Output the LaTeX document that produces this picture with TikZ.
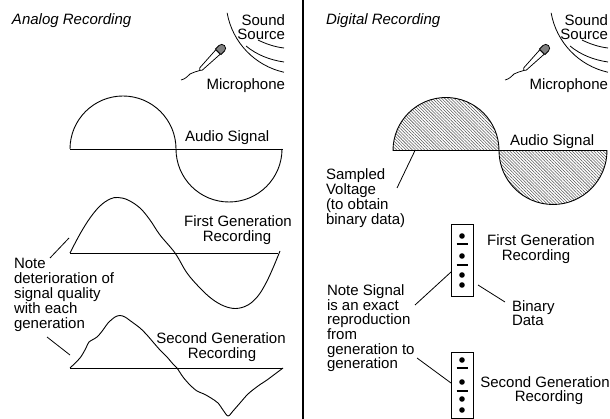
\documentclass[tikz,border=0pt]{standalone}
\usepackage{fontspec}
\setmainfont{Liberation Sans}
\usetikzlibrary{patterns.meta}

\tikzset{
  % sound source: three arcs around the upper right corner
  soundsource/.pic={
    \draw[line width=0.8pt] (300,0) ++(170:74) arc (170:102.5:74);
    \draw[line width=0.8pt] (246,46) .. controls (257,55) and (270,60) .. (284,62);
    \draw[line width=0.8pt] (258,40) .. controls (266,44) and (275,47) .. (284,48);
  },
  % hand microphone with its cable
  microphone/.pic={
    \draw[line width=0.75pt] (201,70) .. controls (196,72) and (193,72) .. (190,74)
                             .. controls (187,77) and (185,79) .. (181,80);
    \begin{scope}[shift={(201,69)}, rotate=45]
      \draw[line width=0.75pt, fill=white] (0,-1.7) -- (24,-3.1) -- (24,3.1) -- (0,1.7)
            arc (90:270:1.7) -- cycle;
      \draw[line width=0.75pt, fill=black!50] (24.3,-3.9) -- (29.3,-3.9) arc (-90:90:3.9)
            -- (24.3,3.9) -- cycle;
    \end{scope}
  },
}

\begin{document}
\begin{tikzpicture}[x=1pt,y=-1pt,
  every node/.style={inner sep=0pt, outer sep=0pt},
  lbl/.style={font=\fontsize{15pt}{15pt}\selectfont},
  lw/.style={lbl, anchor=base west},
  le/.style={lbl, anchor=base east},
  lc/.style={lbl, anchor=base},
  ttl/.style={anchor=base west, font=\fontsize{15pt}{15pt}\selectfont\itshape},
  wave/.style={line width=0.9pt, line join=round},
  leader/.style={line width=0.8pt},
  hatched/.style={pattern={Lines[angle=-45,distance=2.2pt,line width=0.55pt]},
                  pattern color=black!65},
  binbox/.style={draw, line width=0.9pt, minimum width=22pt, anchor=north west},
  bit/.style={circle, fill, minimum size=5.6pt},
  dash bar/.style={line width=1.2pt},
]
\useasboundingbox (0,0) rectangle (610,419);

% divider between the two halves
\coordinate (div-top) at (303,0);
\coordinate (div-bot) at (303,419);
\draw[line width=1.2pt] (div-top) -- (div-bot);

% ---------------- Analog recording ----------------
\node[ttl] (t-analog) at (12,25) {Analog Recording};
\pic at (0,0) {soundsource};
\pic at (0,0) {microphone};
\node[le] (a-sound)  at (285,26) {Sound};
\node[le] (a-source) at (285,40) {Source};
\node[le] (a-mic)    at (285,90) {Microphone};

% audio signal
\draw[wave] (70,149) arc (180:360:53) arc (180:0:53);
\draw[wave] (70,149) -- (283,149);
\node[lw] (a-audio) at (185,141.5) {Audio Signal};

% first generation recording
\draw[wave] plot[smooth, tension=0.6] coordinates {
  (70,253) (80,234) (90,218) (100,206) (110,199) (118,197.5) (128,200)
  (140,208) (150,220) (160,235) (175,253) (187,273) (200,288) (212,299)
  (224,306) (236,308.5) (248,305) (258,296) (266,283) (273,268) (280,251)};
\draw[wave] (70,253) -- (278,253);
\node[lc] (a-first1) at (238,227) {First Generation};
\node[lc] (a-first2) at (237,242) {Recording};

% second generation recording
\draw[wave] plot[smooth, tension=0.5] coordinates {
  (70,368) (80,358) (86,348) (89,342) (97,337) (103,330) (108,323) (115,317)
  (120,315.5) (125,317) (132,322) (140,328) (147,335) (153,342) (160,350)
  (167,357) (173,364) (177,368) (183,377) (190,385) (197,391) (204,394)
  (211,398) (218,403) (223,410) (228,416) (233,411) (240,403) (248,394)
  (258,386) (267,380) (275,374) (283,368)};
\draw[wave] (70,368) -- (283,368);
\node[lc] (a-second1) at (221,343) {Second Generation};
\node[lc] (a-second2) at (222,358) {Recording};

% note on deterioration
\node[lw] (a-note1) at (14,269) {Note};
\node[lw] (a-note2) at (14,284) {deterioration of};
\node[lw] (a-note3) at (14,299) {signal quality};
\node[lw] (a-note4) at (14,314) {with each};
\node[lw] (a-note5) at (14,329) {generation};
\coordinate (a-lead1s) at (50,258);
\coordinate (a-lead1e) at (69,238);
\coordinate (a-lead2s) at (47,337);
\coordinate (a-lead2e) at (70,355);
\draw[leader] (a-lead1s) -- (a-lead1e);
\draw[leader] (a-lead2s) -- (a-lead2e);

% ---------------- Digital recording ----------------
\node[ttl] (t-digital) at (326,25) {Digital Recording};
\pic at (324,0) {soundsource};
\pic at (324,0) {microphone};
\node[le] (d-sound)  at (608,26) {Sound};
\node[le] (d-source) at (608,40) {Source};
\node[le] (d-mic)    at (608,90) {Microphone};

% sampled audio signal
\draw[wave, hatched] (393,150.5) arc (180:360:53) arc (180:0:54) -- cycle;
\node[lw] (d-audio) at (510,146) {Audio Signal};

\node[lw] (d-samp1) at (326,180) {Sampled};
\node[lw] (d-samp2) at (326,195) {Voltage};
\node[lw] (d-samp3) at (326,210) {(to obtain};
\node[lw] (d-samp4) at (326,225) {binary data)};
\coordinate (d-lead0s) at (397,188);
\coordinate (d-lead0e) at (415,150.5);
\draw[leader] (d-lead0s) -- (d-lead0e);

% first generation binary data
\node[binbox, minimum height=72pt] (bin1) at (451,224) {};
\node[bit] (b1-1) at (462,236) {};
\draw[dash bar] (456.5,244) -- (467.5,244);
\node[bit] (b1-2) at (462,256) {};
\draw[dash bar] (456.5,265) -- (467.5,265);
\node[bit] (b1-3) at (462,275) {};
\node[bit] (b1-4) at (462,285) {};
\node[lc] (d-first1) at (541,246) {First Generation};
\node[lc] (d-first2) at (536,261) {Recording};

\coordinate (d-bin-lead) at (505,302);
\coordinate (bin1-right) at (478,285);
\draw[leader] (bin1-right) -- (d-bin-lead);
\node[lw] (d-binary1) at (512,312) {Binary};
\node[lw] (d-binary2) at (512,326) {Data};

% second generation binary data
\node[binbox, minimum height=66pt] (bin2) at (451,352) {};
\node[bit] (b2-1) at (462,360) {};
\draw[dash bar] (456.5,368) -- (467.5,368);
\node[bit] (b2-2) at (462,382) {};
\draw[dash bar] (456.5,391) -- (467.5,391);
\node[bit] (b2-3) at (462,399) {};
\node[bit] (b2-4) at (462,410) {};
\node[lc] (d-second1) at (545,387) {Second Generation};
\node[lc] (d-second2) at (549,401) {Recording};

% note on exact reproduction
\node[lw] (d-note1) at (327,296) {Note Signal};
\node[lw] (d-note2) at (327,310.5) {is an exact};
\node[lw] (d-note3) at (327,325) {reproduction};
\node[lw] (d-note4) at (327,339.5) {from};
\node[lw] (d-note5) at (327,354) {generation to};
\node[lw] (d-note6) at (327,368.5) {generation};
\coordinate (d-lead1s) at (415,305);
\coordinate (bin1-left) at (451,272);
\coordinate (d-lead2s) at (417,358);
\coordinate (bin2-left) at (451,383);
\draw[leader] (d-lead1s) -- (bin1-left);
\draw[leader] (d-lead2s) -- (bin2-left);
\end{tikzpicture}
\end{document}
